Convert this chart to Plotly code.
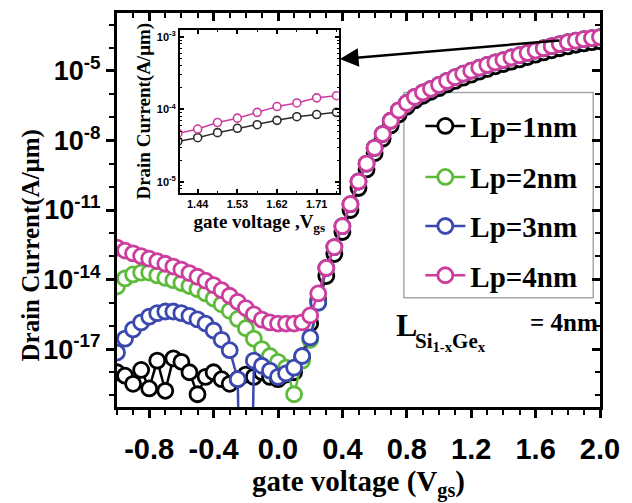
import numpy as np
import plotly.graph_objects as go

# Gate-voltage sweep (V)
vgs = [-1.00, -0.95, -0.90, -0.85, -0.80, -0.75, -0.70, -0.65, -0.60, -0.55,
       -0.50, -0.45, -0.40, -0.35, -0.30, -0.25, -0.20, -0.15, -0.10, -0.05,
       0.00, 0.05, 0.10, 0.15, 0.20, 0.25, 0.30, 0.35, 0.40, 0.45,
       0.50, 0.55, 0.60, 0.65, 0.70, 0.75, 0.80, 0.85, 0.90, 0.95,
       1.00, 1.05, 1.10, 1.15, 1.20, 1.25, 1.30, 1.35, 1.40, 1.45,
       1.50, 1.55, 1.60, 1.65, 1.70, 1.75, 1.80, 1.85, 1.90, 1.95, 2.00]

# Drain current, stored as log10(I / (A/um))
lp1_log = [-18.00, -18.15, -18.50, -17.90, -18.70, -17.50, -18.80, -17.40, -17.55, -18.00,
           -18.95, -18.20, -18.00, -18.30, -18.50, -18.30, -18.10, -18.20, -18.00, -18.20,
           -18.30, -18.10, -18.00, -17.40, -15.90, -14.90, -13.85, -12.90, -11.95, -11.00,
           -10.05, -9.25, -8.55, -7.92, -7.35, -6.88, -6.54, -6.27, -6.07, -5.90,
           -5.74, -5.58, -5.43, -5.29, -5.16, -5.03, -4.91, -4.80, -4.70, -4.60,
           -4.50, -4.40, -4.30, -4.20, -4.11, -4.02, -3.94, -3.87, -3.81, -3.76, -3.72]

lp2_log = [-14.30, -13.95, -13.78, -13.70, -13.70, -13.82, -13.93, -14.03, -14.15, -14.28,
           -14.42, -14.60, -14.82, -15.07, -15.35, -15.70, -16.10, -16.55, -17.00, -17.30,
           -17.55, -17.80, -18.95, -17.50, -16.60, -15.00, -13.50, -12.60, -11.70, -10.75,
           -9.77, -9.00, -8.32, -7.72, -7.15, -6.70, -6.38, -6.12, -5.93, -5.77,
           -5.60, -5.43, -5.27, -5.12, -4.99, -4.86, -4.74, -4.63, -4.53, -4.42,
           -4.32, -4.22, -4.12, -4.02, -3.93, -3.84, -3.76, -3.69, -3.63, -3.58, -3.54]

lp3_log = [-17.15, -16.55, -16.15, -15.85, -15.60, -15.45, -15.38, -15.38, -15.45, -15.57,
           -15.72, -15.90, -16.20, -16.60, -17.05, -18.30, -40.00, -17.50, -17.72, -17.93,
           -18.20, -18.05, -17.80, -17.30, -16.50, -15.00, -13.50, -12.60, -11.70, -10.75,
           -9.77, -9.00, -8.32, -7.72, -7.15, -6.70, -6.38, -6.12, -5.93, -5.77,
           -5.60, -5.43, -5.27, -5.12, -4.99, -4.86, -4.74, -4.63, -4.53, -4.42,
           -4.32, -4.22, -4.12, -4.02, -3.93, -3.84, -3.76, -3.69, -3.63, -3.58, -3.54]

lp4_log = [-12.62, -12.75, -12.87, -12.99, -13.10, -13.21, -13.32, -13.44, -13.57, -13.72,
           -13.88, -14.05, -14.24, -14.46, -14.70, -14.96, -15.23, -15.50, -15.73, -15.85,
           -15.90, -15.90, -15.90, -15.85, -15.55, -14.60, -13.50, -12.60, -11.70, -10.75,
           -9.77, -9.00, -8.32, -7.72, -7.15, -6.70, -6.38, -6.12, -5.93, -5.77,
           -5.60, -5.43, -5.27, -5.12, -4.99, -4.86, -4.74, -4.63, -4.53, -4.42,
           -4.32, -4.22, -4.12, -4.02, -3.93, -3.84, -3.76, -3.69, -3.63, -3.58, -3.54]

# Zoomed high-bias window (inset)
inset_vgs = [1.395, 1.44, 1.485, 1.53, 1.575, 1.62, 1.665, 1.71, 1.755]
inset_lp1_log = [-4.44, -4.39, -4.32, -4.26, -4.21, -4.15, -4.10, -4.07, -4.04]
inset_lp4_log = [-4.33, -4.27, -4.18, -4.12, -4.04, -3.96, -3.91, -3.84, -3.81]

series_names = ["Lp=1nm", "Lp=2nm", "Lp=3nm", "Lp=4nm"]
series_colors = ["#000000", "#5DBB3A", "#3A48B0", "#CC3D9E"]
series_logs = [lp1_log, lp2_log, lp3_log, lp4_log]

x_ticks = [-0.8, -0.4, 0.0, 0.4, 0.8, 1.2, 1.6, 2.0]
y_tick_exps = [-17, -14, -11, -8, -5]
inset_x_ticks = [1.44, 1.53, 1.62, 1.71]
inset_y_tick_exps = [-5, -4, -3]

SERIF = "Liberation Serif"
SANS = "Liberation Sans"

fig = go.Figure()

legend_ids = ["legend", "legend2", "legend3", "legend4"]
for name, color, logs, lid in zip(series_names, series_colors, series_logs, legend_ids):
    fig.add_trace(go.Scatter(
        x=vgs, y=10.0 ** np.array(logs), name=name, mode="lines+markers",
        line=dict(color=color, width=2.5),
        marker=dict(symbol="circle", size=15, color="white",
                    line=dict(color=color, width=2.8)),
        legend=lid,
    ))

# carrier for the mirrored top/right tick axes
fig.add_trace(go.Scatter(x=[], y=[], xaxis="x2", yaxis="y2",
                         showlegend=False, hoverinfo="skip"))

for logs, color in [(inset_lp1_log, "#2b2b2b"), (inset_lp4_log, "#CC3D9E")]:
    fig.add_trace(go.Scatter(
        x=inset_vgs, y=10.0 ** np.array(logs), mode="lines+markers",
        xaxis="x3", yaxis="y3", showlegend=False,
        line=dict(color=color, width=1.5),
        marker=dict(symbol="circle", size=8, color="white",
                    line=dict(color=color, width=1.6)),
    ))

minor_y = [10.0 ** e for e in range(-19, -2)]
inset_minor_y = [m * 10.0 ** e for e in (-6, -5, -4) for m in range(2, 10)]

fig.update_layout(
    width=632, height=503,
    margin=dict(l=117, r=25, t=13, b=89),
    paper_bgcolor="white", plot_bgcolor="white",
    xaxis=dict(
        range=[-1.0, 2.0], showline=True, linecolor="black", linewidth=3,
        ticks="outside", ticklen=8, tickwidth=2.5, tickcolor="black",
        tickvals=x_ticks, ticktext=[f"{v:.1f}" for v in x_ticks],
        tickfont=dict(family=SANS, size=29, color="black", weight="bold"),
        ticklabelstandoff=6,
        minor=dict(ticks="outside", dtick=0.1, tick0=0, ticklen=5, tickwidth=2, tickcolor="black"),
        showgrid=False, zeroline=False,
        title=dict(text="gate voltage (V<sub>gs</sub>)", standoff=6,
                   font=dict(family=SERIF, size=29, color="black", weight="bold")),
    ),
    yaxis=dict(
        type="log", range=[-19.5, -2.5], showline=True, linecolor="black", linewidth=3,
        ticks="outside", ticklen=8, tickwidth=2.5, tickcolor="black",
        tickvals=[10.0 ** e for e in y_tick_exps],
        ticktext=[f"10<sup>{e}</sup>" for e in y_tick_exps],
        tickfont=dict(family=SANS, size=27, color="black", weight="bold"),
        minor=dict(ticks="outside", tickvals=minor_y, ticklen=5, tickwidth=2, tickcolor="black"),
        showgrid=False, zeroline=False,
    ),
    xaxis2=dict(
        overlaying="x", side="top", anchor="y", range=[-1.0, 2.0],
        showline=True, linecolor="black", linewidth=3,
        ticks="inside", ticklen=8, tickwidth=2.5, tickcolor="black",
        tickvals=x_ticks, showticklabels=False,
        minor=dict(ticks="inside", dtick=0.1, tick0=0, ticklen=5, tickwidth=2, tickcolor="black"),
        showgrid=False, zeroline=False,
    ),
    yaxis2=dict(
        overlaying="y", side="right", anchor="x", type="log", range=[-19.5, -2.5],
        showline=True, linecolor="black", linewidth=3,
        ticks="inside", ticklen=8, tickwidth=2.5, tickcolor="black",
        tickvals=[10.0 ** e for e in y_tick_exps], showticklabels=False,
        minor=dict(ticks="inside", tickvals=minor_y, ticklen=5, tickwidth=2, tickcolor="black"),
        showgrid=False, zeroline=False,
    ),
    xaxis3=dict(
        domain=[0.1306, 0.459], anchor="y3", range=[1.40, 1.76],
        showline=True, linecolor="black", linewidth=2, mirror="ticks",
        ticks="inside", ticklen=4, tickwidth=1.5, tickcolor="black",
        tickvals=inset_x_ticks, ticktext=[f"{v:.2f}" for v in inset_x_ticks],
        tickfont=dict(family=SANS, size=11, color="black", weight="bold"),
        minor=dict(ticks="inside", dtick=0.045, tick0=1.44, ticklen=2, tickwidth=1, tickcolor="black"),
        showgrid=False, zeroline=False,
        title=dict(text="gate voltage ,V<sub>gs</sub>", standoff=6,
                   font=dict(family=SERIF, size=19, color="black", weight="bold")),
    ),
    yaxis3=dict(
        domain=[0.5436, 0.9576], anchor="x3", type="log", range=[-5.15, -2.9],
        showline=True, linecolor="black", linewidth=2, mirror="ticks",
        ticks="inside", ticklen=4, tickwidth=1.5, tickcolor="black",
        tickvals=[10.0 ** e for e in inset_y_tick_exps],
        ticktext=[f"10<sup>{e}</sup>" for e in inset_y_tick_exps],
        tickfont=dict(family=SANS, size=11, color="black", weight="bold"),
        minor=dict(ticks="inside", tickvals=inset_minor_y, ticklen=2, tickwidth=1, tickcolor="black"),
        showgrid=False, zeroline=False,
        title=dict(text="Drain Current(A/μm)", standoff=1,
                   font=dict(family=SERIF, size=19, color="black", weight="bold")),
    ),
)

# main y-axis title, placed a little below the axis centre
fig.add_annotation(xref="paper", yref="paper", x=-0.178, y=0.41, textangle=-90,
                   xanchor="center", yanchor="middle", showarrow=False,
                   text="Drain Current(A/μm)",
                   font=dict(family=SERIF, size=25, color="black", weight="bold"))

# one legend per series so the rows can be spaced evenly inside the frame
legend_rows_y = [0.713, 0.5835, 0.459, 0.334]
for lid, ly in zip(legend_ids, legend_rows_y):
    fig.update_layout({lid: dict(
        x=0.628, y=ly, xanchor="left", yanchor="middle", bgcolor="rgba(0,0,0,0)",
        borderwidth=0, itemwidth=40,
        font=dict(family=SERIF, size=29, color="black", weight="bold"),
    )})

fig.add_shape(type="rect", xref="paper", yref="paper", x0=0.594, x1=0.986, y0=0.277, y1=0.798,
              line=dict(color="#a8a8a8", width=1.5), layer="below")

fig.add_annotation(x=0.384, y=-4.49, ax=1.756, ay=-3.68, xref="x", yref="y", axref="x", ayref="y",
                   text="", showarrow=True, arrowhead=2, arrowsize=1.5, arrowwidth=2.5,
                   arrowcolor="black")

fig.add_annotation(xref="paper", yref="paper", x=0.5735, y=0.209, xanchor="left", yanchor="middle",
                   text="L", showarrow=False,
                   font=dict(family=SERIF, size=32, color="black", weight="bold"))
fig.add_annotation(xref="paper", yref="paper", x=0.612, y=0.165, xanchor="left", yanchor="middle",
                   text="Si<sub>1-x</sub>Ge<sub>x</sub>", showarrow=False,
                   font=dict(family=SERIF, size=21, color="black", weight="bold"))
fig.add_annotation(xref="paper", yref="paper", x=0.999, y=0.2145, xanchor="right", yanchor="middle",
                   text="= 4nm", showarrow=False,
                   font=dict(family=SERIF, size=25, color="black", weight="bold"))

fig.write_html("out.html")
